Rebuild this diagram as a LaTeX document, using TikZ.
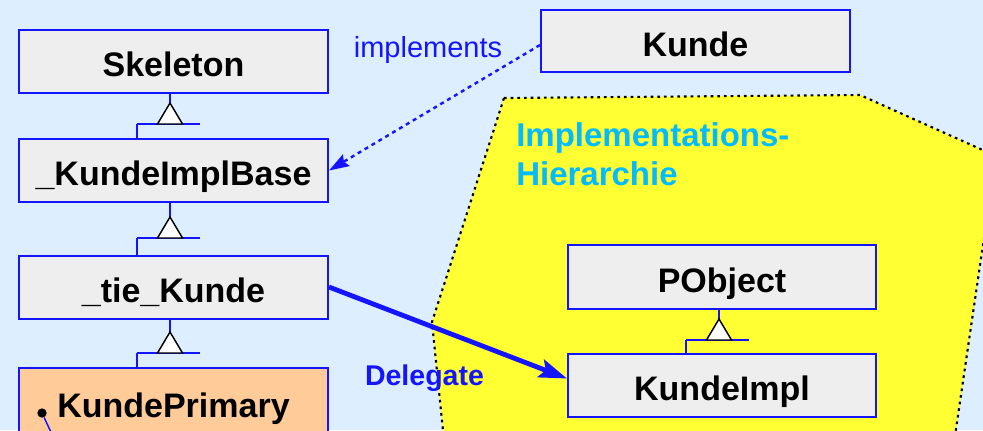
\documentclass[tikz,border=0pt]{standalone}
\usepackage{fontspec}
\setmainfont{Liberation Sans}
\usetikzlibrary{arrows.meta,calc}

\definecolor{bg}{RGB}{220,238,255}
\definecolor{boxfill}{RGB}{238,238,238}
\definecolor{umlblue}{RGB}{20,20,255}
\definecolor{hiertext}{RGB}{0,187,255}
\definecolor{hull}{RGB}{255,255,51}
\definecolor{primary}{RGB}{255,204,153}

% generalization: parent, child, bar name, bar centre x, bar y
\newcommand{\generalize}[5]{%
  \coordinate (#3) at (#4,#5);
  \coordinate (#3l) at ($(#3)+(-33,0)$);
  \coordinate (#3r) at ($(#3)+(30,0)$);
  \coordinate (#3a) at ($(#3)+(0,-21)$);
  \draw[genline] (#1.south -| #3) -- (#3a);
  \draw[genline] (#3l) -- (#3r);
  \draw[genline] (#3l) -- (#3l |- #2.north);
  \draw[gentri] (#3a) -- ($(#3)+(-12.5,0)$) -- ($(#3)+(12.5,0)$) -- cycle;
}

\begin{document}
\begin{tikzpicture}[x=0.75pt,y=-0.75pt,
  cls/.style={draw=umlblue, line width=1.5pt, fill=boxfill,
    minimum width=231.75pt, minimum height=47.25pt, inner sep=0pt,
    text height=22.5pt, text depth=0pt,
    font=\fontsize{25.5}{30}\selectfont\bfseries},
  genline/.style={draw=umlblue, line width=1.1pt},
  gentri/.style={draw=black, fill=white, line width=1.1pt, line join=miter},
  implarrow/.style={draw=umlblue, line width=1.8pt, dash pattern=on 3pt off 3pt,
    -{Stealth[length=15pt,width=10pt,inset=2pt]}},
  delegarrow/.style={draw=umlblue, line width=3.6pt,
    -{Stealth[length=21pt,width=14pt,inset=4pt]}},
  hullborder/.style={draw=black, line width=1.6pt, dash pattern=on 2pt off 3pt, fill=hull},
]
\useasboundingbox (0,0) rectangle (983,430);
\clip (0,0) rectangle (983,430);
\fill[bg] (0,0) rectangle (983,430);

% implementation hierarchy region
\draw[hullborder] (504,98) -- (860,95) -- (996,156) -- (950,470)
  -- (447,470) -- (432,322) -- cycle;
\node[anchor=base west, align=left, inner sep=0pt, text=hiertext,
  font=\fontsize{24.75}{29.25}\selectfont\bfseries] (hier) at (516,185)
  {Implementations-\\Hierarchie};

% classes
\node[cls] (skel) at (173.5,61.5) {Skeleton};
\node[cls] (kib)  at (173.5,170.5) {\_KundeImplBase};
\node[cls] (tie)  at (173.5,287) {\_tie\_Kunde};
\node[cls, fill=primary, minimum height=51pt] (kp) at (173.5,402) {KundePrimary};
\node[cls, minimum height=46.5pt] (kunde) at (695.5,41) {Kunde};
\node[cls, minimum width=231pt, minimum height=48pt] (pobj) at (722,277) {PObject};
\node[cls, minimum width=231pt] (ki) at (722,385.5) {KundeImpl};

% inheritance
\generalize{skel}{kib}{ga}{170}{124}
\generalize{kib}{tie}{gb}{170}{238}
\generalize{tie}{kp}{gc}{170}{353}
\generalize{pobj}{ki}{gd}{719}{340}

% attribute marker of KundePrimary
\node[circle, fill=black, inner sep=0pt, minimum size=7pt] (kpdot) at (42,413) {};
\coordinate (kpend) at (57,445);
\draw[umlblue, line width=1.1pt] (kpdot) -- (kpend);

% implements relation
\draw[implarrow] ($(kunde.west)+(0,4)$) -- (kib.east);
\node[anchor=base, inner sep=0pt, text=umlblue,
  font=\fontsize{21.75}{26}\selectfont] (impl) at (428,57) {implements};

% delegation
\draw[delegarrow] (tie.east) -- ($(ki.west)+(0,-7)$);
\node[anchor=base, inner sep=0pt, text=umlblue,
  font=\fontsize{21.4}{26}\selectfont\bfseries] (deleg) at (424.5,385) {Delegate};
\end{tikzpicture}
\end{document}
